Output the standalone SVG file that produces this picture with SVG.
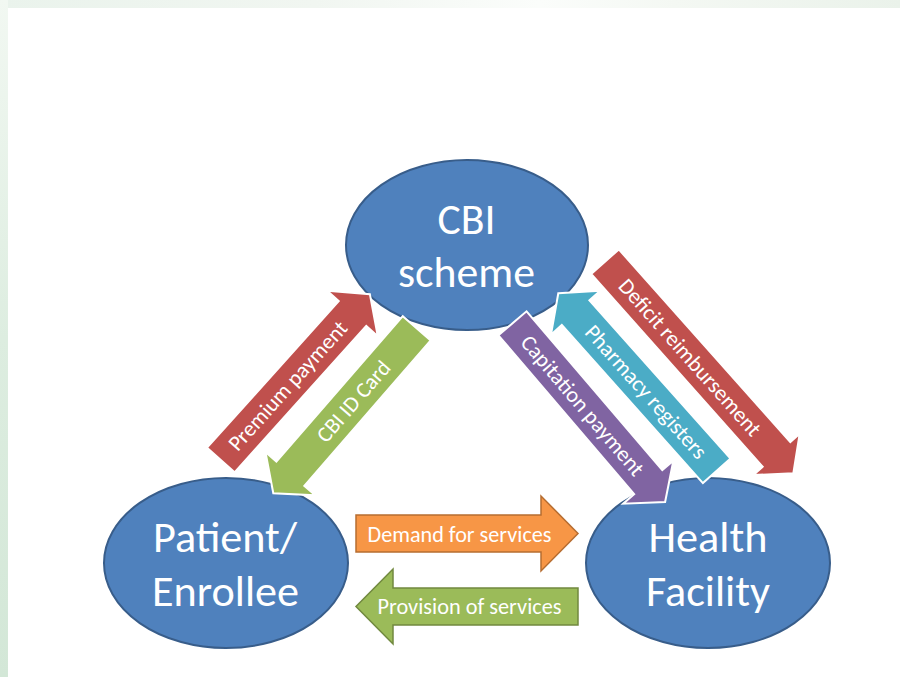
<svg xmlns="http://www.w3.org/2000/svg" width="900" height="677" viewBox="0 0 900 677">
  <defs>
    <linearGradient id="bandTop" x1="0" y1="0" x2="1" y2="0">
      <stop offset="0" stop-color="#EAF3EC"/>
      <stop offset="0.35" stop-color="#F1F6F1"/>
      <stop offset="0.6" stop-color="#FBFDFB"/>
      <stop offset="0.75" stop-color="#F4F8F3"/>
      <stop offset="1" stop-color="#EAF2EA"/>
    </linearGradient>
    <linearGradient id="bandLeft" x1="0" y1="0" x2="0" y2="1">
      <stop offset="0" stop-color="#F2F8F2"/>
      <stop offset="0.5" stop-color="#DDEDE0"/>
      <stop offset="1" stop-color="#D3E7D7"/>
    </linearGradient>
    <style>
      .node ellipse { fill: #4F81BD; stroke: #385D8A; stroke-width: 2; }
      .node text { font-family: Carlito, Calibri, Lato, "Open Sans", sans-serif; font-size: 44px; fill: #FFFFFF; text-anchor: middle; }
      .lbl { font-family: Carlito, Calibri, Lato, "Open Sans", sans-serif; font-size: 22px; fill: #FFFFFF; text-anchor: middle; }
      .diag { stroke: #FFFFFF; stroke-width: 2; stroke-linejoin: miter; }
      .red { fill: #C0504D; }
      .green { fill: #9BBB59; }
      .purple { fill: #8064A2; }
      .teal { fill: #4BACC6; }
      .orange { fill: #F79646; stroke: #B66D31; stroke-width: 1.5; }
      .green-h { fill: #9BBB59; stroke: #71893F; stroke-width: 1.5; }
    </style>
  </defs>

  <!-- page background with pale green border bands -->
  <rect x="0" y="0" width="900" height="677" fill="#FFFFFF"/>
  <rect x="0" y="0" width="900" height="8" fill="url(#bandTop)"/>
  <rect x="0" y="0" width="8" height="677" fill="url(#bandLeft)"/>

  <!-- nodes -->
  <g id="cbi-scheme" class="node">
    <ellipse cx="467" cy="245" rx="121" ry="85"/>
    <text x="466.5" y="233.5" textLength="58" lengthAdjust="spacingAndGlyphs">CBI</text>
    <text x="466.5" y="287" textLength="137" lengthAdjust="spacingAndGlyphs">scheme</text>
  </g>
  <g id="patient-enrollee" class="node">
    <ellipse cx="226" cy="563" rx="122" ry="85"/>
    <text x="225" y="552" textLength="144" lengthAdjust="spacingAndGlyphs">Patient/</text>
    <text x="225.5" y="606" textLength="147" lengthAdjust="spacingAndGlyphs">Enrollee</text>
  </g>
  <g id="health-facility" class="node">
    <ellipse cx="708" cy="563" rx="122" ry="85"/>
    <text x="708" y="552" textLength="119" lengthAdjust="spacingAndGlyphs">Health</text>
    <text x="708" y="606" textLength="124" lengthAdjust="spacingAndGlyphs">Facility</text>
  </g>

  <!-- connectors: block arrows with their labels -->
  <g id="connectors">
    <!-- Premium payment: patient -> scheme, tail at origin -->
    <g id="premium-payment" transform="translate(220.8 460) rotate(-48.05)">
      <path class="diag red" d="M0,-18.5 H197 V-34 L223,0 L197,34 V18.5 H0 Z"/>
      <text class="lbl" x="100" y="7.5" textLength="166" lengthAdjust="spacingAndGlyphs">Premium payment</text>
    </g>
    <!-- CBI ID Card: scheme -> patient, tip at origin -->
    <g id="cbi-id-card" transform="translate(273.3 493.3) rotate(-49)">
      <path class="diag green" d="M0,0 L26,-33 V-18.5 H218.6 V18.5 H26 V33 Z"/>
      <text class="lbl" x="122" y="7.5" textLength="100" lengthAdjust="spacingAndGlyphs">CBI ID Card</text>
    </g>
    <!-- Capitation payment: scheme -> facility, tail at origin -->
    <g id="capitation-payment" transform="translate(512.5 323.3) rotate(49.5)">
      <path class="diag purple" d="M0,-18.5 H209 V-33 L235,0 L209,33 V18.5 H0 Z"/>
      <text class="lbl" x="108" y="7.5" textLength="177" lengthAdjust="spacingAndGlyphs">Capitation payment</text>
    </g>
    <!-- Pharmacy registers: facility -> scheme, tip at origin -->
    <g id="pharmacy-registers" transform="translate(558.3 293.3) rotate(48.25)">
      <path class="diag teal" d="M0,0 L26,-33 V-18.5 H237.9 V18.5 H26 V33 Z"/>
      <text class="lbl" x="132" y="7.5" textLength="171" lengthAdjust="spacingAndGlyphs">Pharmacy registers</text>
    </g>
    <!-- Deficit reimbursement: scheme -> facility, tail at origin -->
    <g id="deficit-reimbursement" transform="translate(605 261.7) rotate(48.34)">
      <path class="diag red" d="M0,-18.5 H258 V-31 L283.3,0 L258,31 V18.5 H0 Z"/>
      <text class="lbl" x="128" y="7.5" textLength="202" lengthAdjust="spacingAndGlyphs">Deficit reimbursement</text>
    </g>
    <!-- Demand for services: patient -> facility -->
    <g id="demand-for-services">
      <path class="orange" d="M356,515 H541 V496 L578,533.5 L541,571 V552 H356 Z"/>
      <text class="lbl" x="459.5" y="541.5" textLength="184" lengthAdjust="spacingAndGlyphs">Demand for services</text>
    </g>
    <!-- Provision of services: facility -> patient -->
    <g id="provision-of-services">
      <path class="green-h" d="M578,588 H393 V569 L356,606.5 L393,644 V625 H578 Z"/>
      <text class="lbl" x="469.5" y="614" textLength="184" lengthAdjust="spacingAndGlyphs">Provision of services</text>
    </g>
  </g>
</svg>
